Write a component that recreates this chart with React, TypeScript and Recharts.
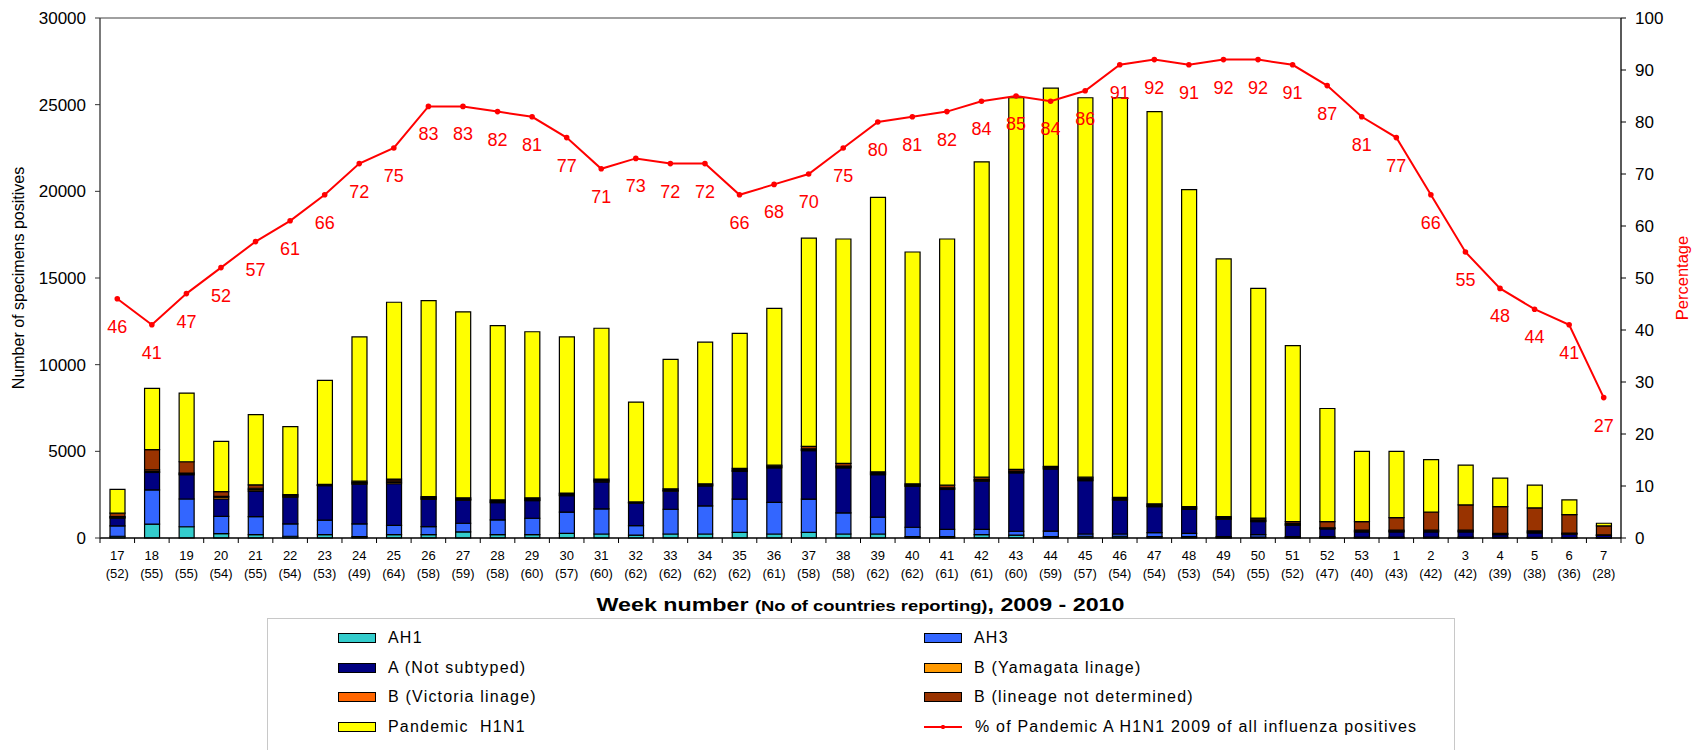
import React from "react"
import { ComposedChart, Bar, Line, XAxis, YAxis, ReferenceLine, LabelList, Label } from "recharts"

// Weeks 17-53 of 2009 and 1-7 of 2010, with number of countries reporting
const weeks = [17, 18, 19, 20, 21, 22, 23, 24, 25, 26, 27, 28, 29, 30, 31, 32, 33, 34, 35, 36, 37, 38, 39, 40, 41, 42, 43, 44, 45, 46, 47, 48, 49, 50, 51, 52, 53, 1, 2, 3, 4, 5, 6, 7]
const countries = [52, 55, 55, 54, 55, 54, 53, 49, 64, 58, 59, 58, 60, 57, 60, 62, 62, 62, 62, 61, 58, 58, 62, 62, 61, 61, 60, 59, 57, 54, 54, 53, 54, 55, 52, 47, 40, 43, 42, 42, 39, 38, 36, 28]

// specimens positive per type
const ah1 = [100, 800, 650, 250, 200, 100, 200, 80, 200, 200, 350, 200, 200, 270, 230, 170, 230, 230, 330, 230, 330, 230, 230, 80, 80, 190, 170, 80, 100, 100, 80, 80, 30, 50, 30, 30, 20, 20, 20, 20, 20, 20, 10, 10]
const ah3 = [600, 1980, 1600, 1000, 1030, 710, 830, 730, 530, 460, 500, 840, 940, 1220, 1450, 540, 1430, 1620, 1910, 1820, 1910, 1220, 970, 540, 420, 310, 220, 320, 130, 130, 230, 190, 50, 150, 50, 50, 30, 30, 30, 30, 20, 20, 10, 10]
const aNotSubtyped = [450, 1000, 1400, 1000, 1480, 1550, 1990, 2300, 2400, 1570, 1330, 1000, 1020, 950, 1550, 1300, 1040, 1150, 1600, 2000, 2800, 2600, 2450, 2360, 2300, 2780, 3370, 3580, 3080, 1950, 1500, 1380, 1000, 750, 650, 450, 300, 300, 300, 300, 150, 250, 200, 130]
const bYamagata = [50, 50, 50, 100, 80, 50, 20, 50, 80, 50, 40, 50, 50, 50, 50, 20, 40, 40, 50, 50, 50, 50, 50, 50, 50, 50, 50, 50, 70, 50, 50, 50, 50, 50, 50, 30, 50, 50, 50, 50, 40, 60, 30, 10]
const bVictoria = [30, 100, 50, 50, 80, 50, 20, 50, 80, 50, 40, 50, 50, 50, 50, 20, 40, 40, 50, 50, 50, 50, 50, 50, 50, 50, 50, 50, 70, 50, 50, 50, 50, 50, 50, 30, 50, 50, 50, 50, 40, 60, 30, 20]
const bNotDetermined = [200, 1170, 650, 280, 200, 50, 30, 70, 110, 60, 60, 60, 60, 50, 70, 30, 60, 50, 80, 50, 150, 150, 70, 50, 150, 130, 100, 50, 60, 60, 60, 60, 60, 100, 120, 350, 500, 730, 1050, 1460, 1540, 1330, 1070, 520]
const pandemic = [1370, 3530, 3960, 2900, 4050, 3920, 6000, 8320, 10200, 11310, 10730, 10050, 9580, 9010, 8700, 5760, 7460, 8170, 7780, 9050, 12010, 12950, 15830, 13370, 14200, 18190, 21440, 21820, 21890, 23060, 22630, 18290, 14860, 13250, 10150, 6530, 4050, 3820, 3020, 2300, 1650, 1310, 850, 150]

// % of pandemic A H1N1 2009 of all influenza positives
const pandemicPct = [46, 41, 47, 52, 57, 61, 66, 72, 75, 83, 83, 82, 81, 77, 71, 73, 72, 72, 66, 68, 70, 75, 80, 81, 82, 84, 85, 84, 86, 91, 92, 91, 92, 92, 91, 87, 81, 77, 66, 55, 48, 44, 41, 27]

const leftTicks = [0, 5000, 10000, 15000, 20000, 25000, 30000]
const rightTicks = [0, 10, 20, 30, 40, 50, 60, 70, 80, 90, 100]

const series = [
  { key: "ah1", name: "AH1", color: "#33CCCC", values: ah1 },
  { key: "ah3", name: "AH3", color: "#3366FF", values: ah3 },
  { key: "aNs", name: "A (Not subtyped)", color: "#000080", values: aNotSubtyped },
  { key: "bYam", name: "B (Yamagata linage)", color: "#FF9900", values: bYamagata },
  { key: "bVic", name: "B (Victoria linage)", color: "#FF6600", values: bVictoria },
  { key: "bNd", name: "B (lineage not determined)", color: "#993300", values: bNotDetermined },
  { key: "pan", name: "Pandemic  H1N1", color: "#FFFF00", values: pandemic },
]
const lineName = "% of Pandemic A H1N1 2009 of all influenza positives"

const data = weeks.map((w, i) => {
  const row: Record<string, any> = { cat: `${w}|${countries[i]}`, pct: pandemicPct[i] }
  series.forEach(s => { row[s.key] = s.values[i] })
  return row
})

const W = 1703
const H = 750
const LEFT_W = 100
const RIGHT_W = 82
const FONT = '"Liberation Sans", Arial, sans-serif'
const band = (W - LEFT_W - RIGHT_W) / weeks.length

function WeekTick(props: any) {
  const { x, y, payload, index } = props
  const [w, c] = String(payload.value).split("|")
  const half = band / 2
  return (
    <g>
      <line x1={x - half} x2={x - half} y1={y} y2={y + 5} stroke="#000" />
      {index === weeks.length - 1 && <line x1={x + half} x2={x + half} y1={y} y2={y + 5} stroke="#000" />}
      <text x={x} y={y + 17} textAnchor="middle" dominantBaseline="central" fontSize={13} fill="#000" fontFamily={FONT}>{w}</text>
      <text x={x} y={y + 35} textAnchor="middle" dominantBaseline="central" fontSize={13} fill="#000" fontFamily={FONT}>({c})</text>
    </g>
  )
}

function PctLabel(props: any) {
  const { x, y, value } = props
  return (
    <text x={x} y={y + 28} textAnchor="middle" dominantBaseline="central" fontSize={18} fill="#FF0000" fontFamily={FONT}>{value}</text>
  )
}

function XTitle(props: any) {
  const vb = props.viewBox
  return (
    <text x={vb.x + vb.width / 2} y={vb.y + 73} textAnchor="middle" fontFamily={FONT} fontWeight="bold" fill="#000"
      textLength={528} lengthAdjust="spacingAndGlyphs">
      <tspan fontSize={19}>Week number </tspan>
      <tspan fontSize={15}>(No of countries reporting)</tspan>
      <tspan fontSize={19}>, 2009 - 2010</tspan>
    </text>
  )
}

function LeftTitle(props: any) {
  const vb = props.viewBox
  const cy = vb.y + vb.height / 2
  return (
    <text x={18} y={cy} transform={`rotate(-90 18 ${cy})`} textAnchor="middle" dominantBaseline="central" fontSize={16} fill="#000" fontFamily={FONT}>
      Number of specimens positives
    </text>
  )
}

function RightTitle(props: any) {
  const vb = props.viewBox
  const cx = vb.x + 61
  const cy = vb.y + vb.height / 2
  return (
    <text x={cx} y={cy} transform={`rotate(-90 ${cx} ${cy})`} textAnchor="middle" dominantBaseline="central" fontSize={16.5} fill="#FF0000" fontFamily={FONT}>
      Percentage
    </text>
  )
}

function ChartLegend() {
  const items = [...series.map(s => ({ name: s.name, color: s.color, line: false })), { name: lineName, color: "#FF0000", line: true }]
  return (
    <div style={{ position: "absolute", left: 267, top: 618, width: 1186, height: 160, border: "1.5px solid #c8c8c8", background: "#fff" }}>
      {items.map((it, i) => {
        const col = i % 2
        const row = Math.floor(i / 2)
        return (
          <div key={it.name} style={{ position: "absolute", left: col ? 656 : 70, top: 19 + row * 29.7 - 10, height: 20, display: "flex", alignItems: "center", whiteSpace: "pre" }}>
            {it.line ? (
              <svg width={38} height={10} style={{ marginRight: 13 }}>
                <line x1={0} x2={38} y1={5} y2={5} stroke="#FF0000" strokeWidth={2} />
                <rect x={17.5} y={3} width={3} height={4} fill="#FF0000" />
              </svg>
            ) : (
              <div style={{ width: 36, height: 8, background: it.color, border: "1.5px solid #000", marginRight: 12 }} />
            )}
            <span style={{ fontFamily: FONT, fontSize: 16, letterSpacing: 1.2, color: "#000" }}>{it.name}</span>
          </div>
        )
      })}
    </div>
  )
}

export default function App() {
  return (
    <div style={{ position: "absolute", left: 0, top: 0, width: W, height: H, background: "#fff", overflow: "hidden" }}>
      <ComposedChart width={W} height={H} data={data} margin={{ top: 18, right: 0, bottom: 0, left: 0 }} barCategoryGap={0}>
        <XAxis
          dataKey="cat"
          xAxisId={0}
          height={H - 538}
          interval={0}
          tickLine={false}
          tickSize={0}
          tickMargin={0}
          axisLine={{ stroke: "#000", strokeWidth: 1.3 }}
          tick={(p: any) => <WeekTick {...p} />}
        >
          <Label content={(p: any) => <XTitle {...p} />} />
        </XAxis>
        <YAxis
          yAxisId="left"
          width={LEFT_W}
          domain={[0, 30000]}
          ticks={leftTicks}
          interval={0}
          tickSize={5}
          tickMargin={9}
          axisLine={{ stroke: "#333", strokeWidth: 1.3 }}
          tickLine={{ stroke: "#333" }}
          tick={{ fontSize: 17, fill: "#000", fontFamily: FONT }}
        >
          <Label content={(p: any) => <LeftTitle {...p} />} />
        </YAxis>
        <YAxis
          yAxisId="right"
          orientation="right"
          width={RIGHT_W}
          domain={[0, 100]}
          ticks={rightTicks}
          interval={0}
          tickSize={5}
          tickMargin={9}
          axisLine={{ stroke: "#000", strokeWidth: 1.3 }}
          tickLine={{ stroke: "#000" }}
          tick={{ fontSize: 17, fill: "#000", fontFamily: FONT }}
        >
          <Label content={(p: any) => <RightTitle {...p} />} />
        </YAxis>
        <ReferenceLine yAxisId="left" y={30000} stroke="#808080" strokeWidth={1.5} />
        {series.map(s => (
          <Bar
            key={s.key}
            dataKey={s.key}
            name={s.name}
            stackId="flu"
            yAxisId="left"
            fill={s.color}
            stroke="#000"
            strokeWidth={1.2}
            barSize={15}
            isAnimationActive={false}
          />
        ))}
        <Line
          yAxisId="right"
          dataKey="pct"
          name={lineName}
          type="linear"
          stroke="#FF0000"
          strokeWidth={2}
          dot={{ r: 1.8, fill: "#FF0000", stroke: "#FF0000" }}
          isAnimationActive={false}
        >
          <LabelList dataKey="pct" content={(p: any) => <PctLabel {...p} />} />
        </Line>
      </ComposedChart>
      <ChartLegend />
    </div>
  )
}
